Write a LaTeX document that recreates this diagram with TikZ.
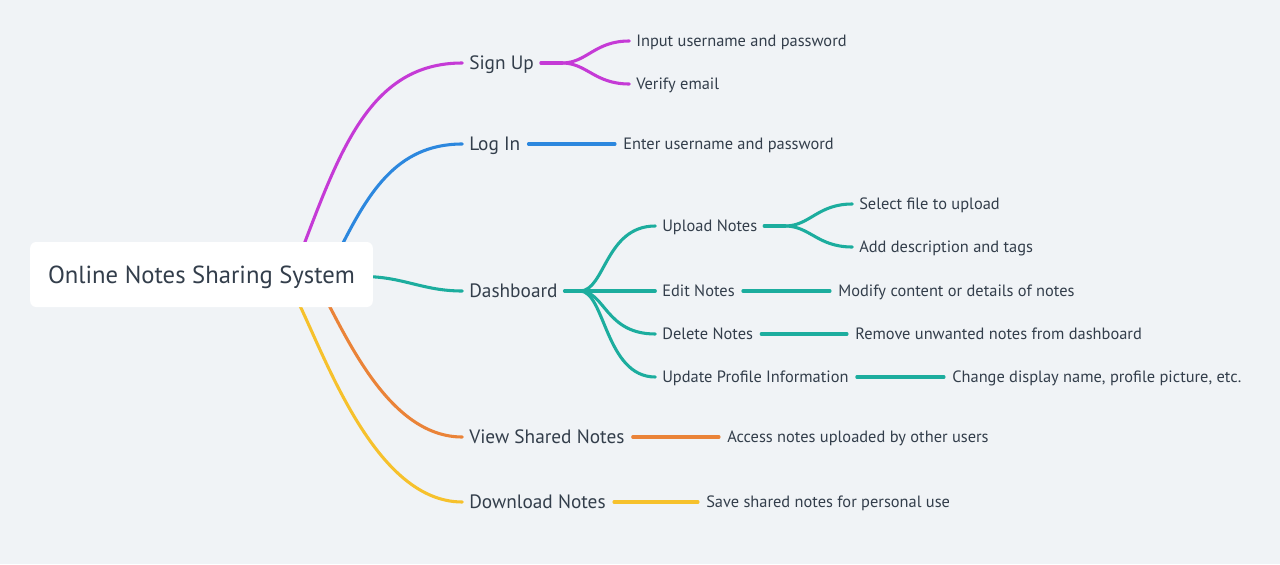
\documentclass[tikz,border=0pt]{standalone}
\usepackage{fontspec}
\setmainfont{PT Sans}
\usetikzlibrary{positioning}
\usetikzlibrary{calc}
\pgfdeclarelayer{back}
\pgfsetlayers{back,main}
\definecolor{bgcol}{RGB}{240,243,246}
\definecolor{txtcol}{RGB}{51,62,75}
\definecolor{cmag}{RGB}{197,58,214}
\definecolor{cblue}{RGB}{44,135,222}
\definecolor{cteal}{RGB}{28,173,158}
\definecolor{corange}{RGB}{234,131,56}
\definecolor{cyellow}{RGB}{246,193,44}
\tikzset{rootbox/.style = {fill=white, rounded corners=4.5pt, inner sep=0pt,
                           minimum width=257pt, minimum height=48.75pt,
                           text height=13pt, text depth=0pt,
                           text=txtcol, font=\fontsize{18.5}{20}\selectfont}}
\tikzset{topic/.style = {anchor=west, inner sep=0pt, text height=10.2pt, text depth=0pt,
                         text=txtcol, font=\fontsize{14.5}{16}\selectfont}}
\tikzset{subtopic/.style = {topic, text height=8.7pt, font=\fontsize{12.3}{14}\selectfont}}
\tikzset{branch/.style = {line width=2.3pt, line cap=round}}

\begin{document}
\begin{tikzpicture}[x=0.75pt, y=-0.75pt]
      \useasboundingbox (0, 0) rectangle (1280, 564);

      \node [rootbox] (root) at (201.5, 274.5) {Online Notes Sharing System};

      \node [topic] (signup) at (469, 63) {Sign Up};
      \node [topic] (login) at (469, 144) {Log In};
      \node [topic] (dash) at (469, 291) {Dashboard};
      \node [topic] (view) at (469, 437) {View Shared Notes};
      \node [topic] (download) at (469, 502) {Download Notes};

      \node [subtopic] (input) at (636, 41) {Input username and password};
      \node [subtopic] (verify) at (636, 84) {Verify email};
      \node [subtopic] (enter) at (623, 144) {Enter username and password};
      \node [subtopic] (upload) at (662, 226) {Upload Notes};
      \node [subtopic] (edit) at (662, 291) {Edit Notes};
      \node [subtopic] (delete) at (662, 334) {Delete Notes};
      \node [subtopic] (update) at (662, 377) {Update Profile Information};
      \node [subtopic] (select) at (859, 204) {Select file to upload};
      \node [subtopic] (adddesc) at (859, 247) {Add description and tags};
      \node [subtopic] (modify) at (838, 291) {Modify content or details of notes};
      \node [subtopic] (remove) at (855, 334) {Remove unwanted notes from dashboard};
      \node [subtopic] (change) at (952, 377) {Change display name, profile picture, etc.};
      \node [subtopic] (access) at (727, 437) {Access notes uploaded by other users};
      \node [subtopic] (save) at (706, 502) {Save shared notes for personal use};

      \coordinate (su-fork) at (562, 63);
      \coordinate (da-fork) at (580, 291);
      \coordinate (up-fork) at (785, 226);

      \begin{pgfonlayer}{back}
      \fill [bgcol] (0, 0) rectangle (1280, 564);

      % from the root
      \draw [branch, cmag] ([shift={(-73, 13)}]root.north east) .. controls +(40, -105) and +(-92, 0) .. ([xshift=-5pt]signup.west);
      \draw [branch, cblue] ([shift={(-36, 13)}]root.north east) .. controls +(30, -60) and +(-67, 0) .. ([xshift=-5pt]login.west);
      \draw [branch, cteal] ([shift={(-10, 2)}]root.east) .. controls +(40, 0) and +(-40, 0) .. ([xshift=-5pt]dash.west);
      \draw [branch, corange] ([shift={(-52, -17)}]root.south east) .. controls +(27, 50) and +(-72, 0) .. ([xshift=-5pt]view.west);
      \draw [branch, cyellow] ([shift={(-81, -17)}]root.south east) .. controls +(28, 50) and +(-92, 0) .. ([xshift=-5pt]download.west);

      % sign up, log in
      \draw [branch, cmag] ([xshift=5pt]signup.east) -- (su-fork);
      \draw [branch, cmag] (su-fork) .. controls +(25, 0) and +(-35, 0) .. ([xshift=-5pt]input.west);
      \draw [branch, cmag] (su-fork) .. controls +(25, 0) and +(-35, 0) .. ([xshift=-5pt]verify.west);
      \draw [branch, cblue] ([xshift=6pt]login.east) -- ([xshift=-6pt]enter.west);

      % dashboard
      \draw [branch, cteal] ([xshift=5pt]dash.east) -- (da-fork);
      \foreach \n in {upload, edit, delete, update}
        \draw [branch, cteal] (da-fork) .. controls +(25, 0) and +(-50, 0) .. ([xshift=-5pt]\n.west);
      \draw [branch, cteal] ([xshift=5pt]upload.east) -- (up-fork);
      \draw [branch, cteal] (up-fork) .. controls +(25, 0) and +(-35, 0) .. ([xshift=-5pt]select.west);
      \draw [branch, cteal] (up-fork) .. controls +(25, 0) and +(-35, 0) .. ([xshift=-5pt]adddesc.west);
      \draw [branch, cteal] ([xshift=6pt]edit.east) -- ([xshift=-6pt]modify.west);
      \draw [branch, cteal] ([xshift=6pt]delete.east) -- ([xshift=-6pt]remove.west);
      \draw [branch, cteal] ([xshift=6pt]update.east) -- ([xshift=-6pt]change.west);

      % shared notes
      \draw [branch, corange] ([xshift=6pt]view.east) -- ([xshift=-6pt]access.west);
      \draw [branch, cyellow] ([xshift=6pt]download.east) -- ([xshift=-6pt]save.west);
      \end{pgfonlayer}
    \end{tikzpicture}
\end{document}
